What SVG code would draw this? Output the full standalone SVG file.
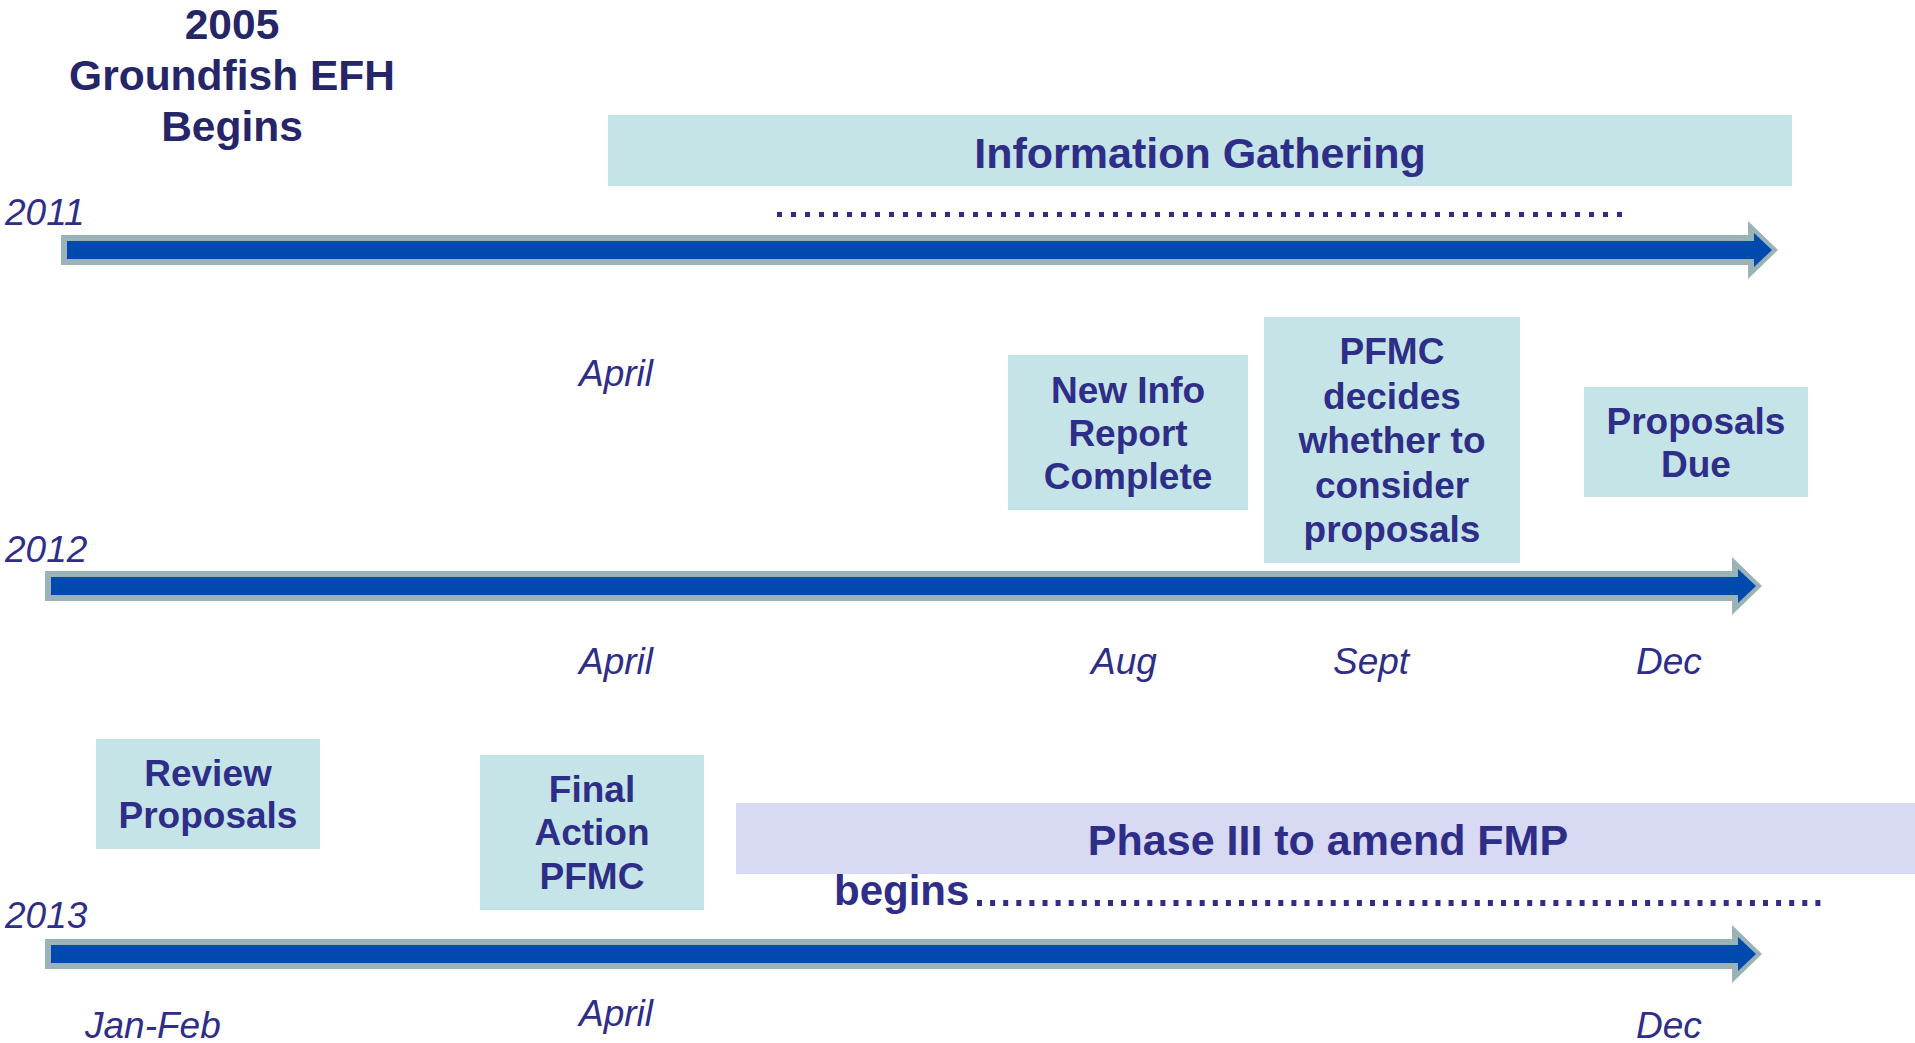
<svg xmlns="http://www.w3.org/2000/svg" width="1915" height="1043" viewBox="0 0 1915 1043">
<style>
.bg{fill:#ffffff}
.box{fill:#c5e4e8}
.lav{fill:#d8d9f2}
.bt{font-family:"Liberation Sans",Arial,sans-serif;font-weight:bold;fill:#2e2d87;text-anchor:middle}
.title{font-family:"Liberation Sans",Arial,sans-serif;font-weight:bold;fill:#252567;text-anchor:middle;font-size:42.5px}
.lbl{font-family:"Liberation Sans",Arial,sans-serif;font-style:italic;fill:#2e2d87;font-size:37px}
.outer{fill:#9ab3b6}
.inner{fill:#004aad}
.dots{stroke:#2e2d87;fill:none}
</style>
<rect class="bg" x="0" y="0" width="1915" height="1043"/>

<g id="title">
<text class="title" x="232" y="39">2005</text>
<text class="title" x="232" y="90">Groundfish EFH</text>
<text class="title" x="232" y="141">Begins</text>
</g>

<g id="year-labels">
<text class="lbl" x="5" y="225">2011</text>
<text class="lbl" x="5" y="562">2012</text>
<text class="lbl" x="5" y="928">2013</text>
</g>

<g id="connectors">
<g id="arrow-2011">
<polygon class="outer" points="61,235 1748,235 1748,221 1778,250 1748,279 1748,265 61,265"/>
<polygon class="inner" points="67,241 1754,241 1754,233 1772,250 1754,267 1754,259 67,259"/>
</g>
<g id="arrow-2012">
<polygon class="outer" points="45,571 1732,571 1732,557 1762,586 1732,615 1732,601 45,601"/>
<polygon class="inner" points="51,577 1738,577 1738,569 1756,586 1738,603 1738,595 51,595"/>
</g>
<g id="arrow-2013">
<polygon class="outer" points="45,939 1732,939 1732,925 1762,954 1732,983 1732,969 45,969"/>
<polygon class="inner" points="51,945 1738,945 1738,937 1756,954 1738,971 1738,963 51,963"/>
</g>
<line class="dots" x1="777" y1="214.5" x2="1623" y2="214.5" stroke-width="5" stroke-dasharray="5 9"/>
<line class="dots" x1="977" y1="903" x2="1826" y2="903" stroke-width="6" stroke-dasharray="5 8.1"/>
</g>

<g id="info-gathering">
<rect class="box" x="608" y="115" width="1184" height="71"/>
<text class="bt" x="1200" y="168" font-size="43">Information Gathering</text>
</g>

<g id="new-info">
<rect class="box" x="1008" y="355" width="240" height="155"/>
<text class="bt" x="1128" y="403" font-size="37">New Info</text>
<text class="bt" x="1128" y="446" font-size="37">Report</text>
<text class="bt" x="1128" y="489" font-size="37">Complete</text>
</g>

<g id="pfmc-decides">
<rect class="box" x="1264" y="317" width="256" height="246"/>
<text class="bt" x="1392" y="364" font-size="37">PFMC</text>
<text class="bt" x="1392" y="409" font-size="37">decides</text>
<text class="bt" x="1392" y="453" font-size="37">whether to</text>
<text class="bt" x="1392" y="498" font-size="37">consider</text>
<text class="bt" x="1392" y="542" font-size="37">proposals</text>
</g>

<g id="proposals-due">
<rect class="box" x="1584" y="387" width="224" height="110"/>
<text class="bt" x="1696" y="434" font-size="37">Proposals</text>
<text class="bt" x="1696" y="477" font-size="37">Due</text>
</g>

<g id="review-proposals">
<rect class="box" x="96" y="739" width="224" height="110"/>
<text class="bt" x="208" y="786" font-size="37">Review</text>
<text class="bt" x="208" y="828" font-size="37">Proposals</text>
</g>

<g id="final-action">
<rect class="box" x="480" y="755" width="224" height="155"/>
<text class="bt" x="592" y="802" font-size="37">Final</text>
<text class="bt" x="592" y="845" font-size="37">Action</text>
<text class="bt" x="592" y="889" font-size="37">PFMC</text>
</g>

<g id="phase-iii">
<rect class="lav" x="736" y="803" width="1179" height="71"/>
<text class="bt" x="1328" y="855" font-size="43">Phase III to amend FMP</text>
<text class="bt" x="834" y="905" font-size="42" style="text-anchor:start">begins</text>
</g>

<g id="month-labels">
<text class="lbl" x="579" y="386">April</text>
<text class="lbl" x="579" y="674">April</text>
<text class="lbl" x="1091" y="674">Aug</text>
<text class="lbl" x="1333" y="674">Sept</text>
<text class="lbl" x="1636" y="674">Dec</text>
<text class="lbl" x="85" y="1038">Jan-Feb</text>
<text class="lbl" x="579" y="1026">April</text>
<text class="lbl" x="1636" y="1038">Dec</text>
</g>
</svg>
